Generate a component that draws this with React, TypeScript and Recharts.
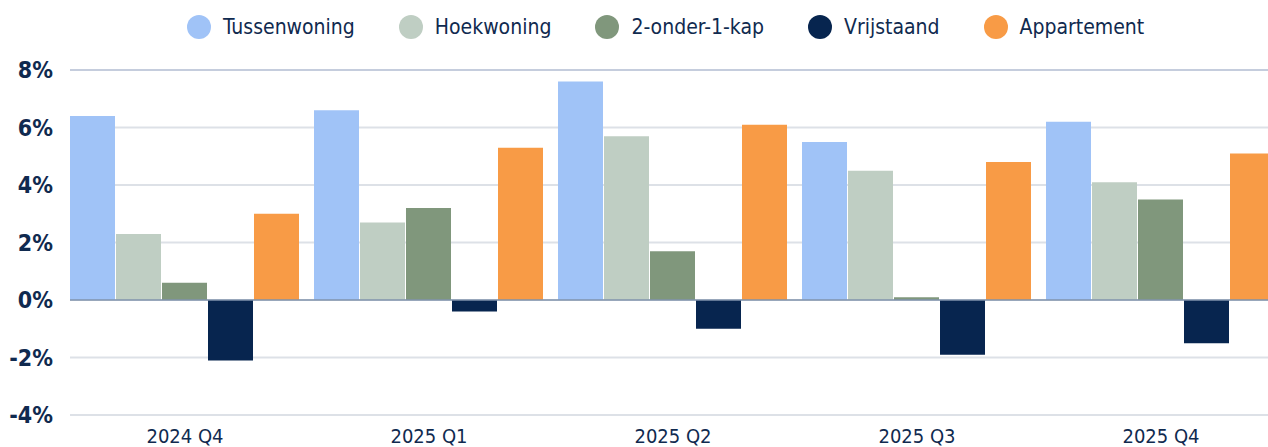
import React from "react";
import { BarChart, Bar, XAxis, YAxis, CartesianGrid, ReferenceLine } from "recharts";

const categories = ["2024 Q4", "2025 Q1", "2025 Q2", "2025 Q3", "2025 Q4"];
const tussenwoning = [6.4, 6.6, 7.6, 5.5, 6.2];
const hoekwoning = [2.3, 2.7, 5.7, 4.5, 4.1];
const tweeOnder1Kap = [0.6, 3.2, 1.7, 0.1, 3.5];
const vrijstaand = [-2.1, -0.4, -1.0, -1.9, -1.5];
const appartement = [3.0, 5.3, 6.1, 4.8, 5.1];
const yTicks = [-4, -2, 0, 2, 4, 6, 8];

const series = [
  { key: "Tussenwoning", values: tussenwoning, color: "#a0c3f7" },
  { key: "Hoekwoning", values: hoekwoning, color: "#bfcec3" },
  { key: "2-onder-1-kap", values: tweeOnder1Kap, color: "#80977c" },
  { key: "Vrijstaand", values: vrijstaand, color: "#07254f" },
  { key: "Appartement", values: appartement, color: "#f89b46" },
];

const data = categories.map((c, i) => {
  const row: Record<string, any> = { name: c };
  series.forEach((s) => (row[s.key] = s.values[i]));
  return row;
});

const FONT = '"DejaVu Sans Condensed", "DejaVu Sans", sans-serif';
const TEXT = "#102a4f";

export default function App() {
  return (
    <div
      style={{
        position: "absolute",
        left: 0,
        top: 0,
        width: 1268,
        height: 447,
        overflow: "hidden",
        background: "#ffffff",
        fontFamily: FONT,
      }}
    >
      <div
        style={{
          position: "absolute",
          left: 187,
          top: 15,
          display: "flex",
          alignItems: "center",
          height: 24,
        }}
      >
        {series.map((s, i) => (
          <div
            key={s.key}
            style={{ display: "flex", alignItems: "center", marginLeft: i === 0 ? 0 : 44 }}
          >
            <span
              style={{
                display: "inline-block",
                width: 24,
                height: 24,
                borderRadius: 12,
                background: s.color,
                marginRight: 12,
              }}
            />
            <span style={{ fontSize: 21, color: TEXT, lineHeight: "24px" }}>{s.key}</span>
          </div>
        ))}
      </div>
      <div style={{ position: "absolute", left: 0, top: 0 }}>
        <BarChart
          width={1283}
          height={447}
          data={data}
          margin={{ top: 70, right: 0, bottom: 0, left: 0 }}
          barCategoryGap={7}
          barGap={1}
        >
          <CartesianGrid vertical={false} stroke="#dde1e7" strokeWidth={2} />
          <XAxis
            dataKey="name"
            axisLine={false}
            tickLine={false}
            tickSize={0}
            tickMargin={14}
            height={32}
            padding={{ left: -7, right: 0 }}
            interval={0}
            tick={{ fontSize: 20, fill: TEXT, fontFamily: FONT }}
          />
          <YAxis
            width={70}
            domain={[-4, 8]}
            ticks={yTicks}
            axisLine={false}
            tickLine={false}
            tickSize={0}
            tickMargin={17}
            tickFormatter={(v: number) => `${v}%`}
            tick={{ fontSize: 23, fill: TEXT, fontFamily: FONT, fontWeight: 600 }}
          />
          <ReferenceLine y={8} stroke="#c5cddd" strokeWidth={2} />
          {series.map((s) => (
            <Bar key={s.key} dataKey={s.key} fill={s.color} isAnimationActive={false} />
          ))}
          <ReferenceLine y={0} stroke="#8193ad" strokeWidth={1.5} />
        </BarChart>
      </div>
    </div>
  );
}
